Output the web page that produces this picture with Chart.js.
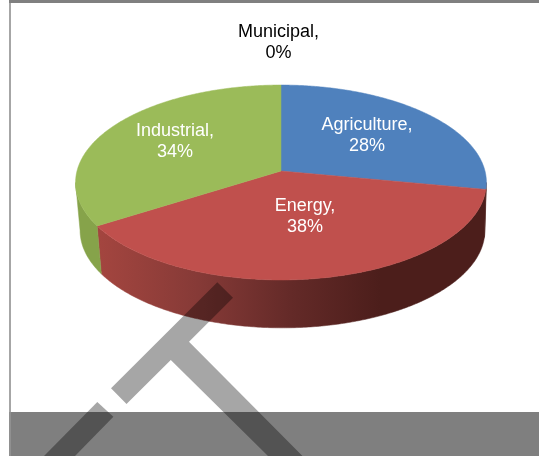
<!DOCTYPE html>
<html>
<head>
<meta charset="utf-8">
<style>html,body{margin:0;padding:0;background:#fff}canvas{display:block}</style>
<script src="https://cdn.jsdelivr.net/npm/chart.js@4"></script>
</head>
<body>
<canvas id="c" width="539" height="456"></canvas>
<script>
const categories = ['Agriculture', 'Energy', 'Industrial', 'Municipal'];
const shares = [28, 38, 34, 0];
const topColors = ['#4f81bd', '#c0504d', '#9bbb59', '#8064a2'];
const labelColors = ['#ffffff', '#ffffff', '#ffffff', '#000000'];
const labelAnchors = [[367, 135.5], [305, 216.5], [175, 142], [278.5, 42.5]];

// perspective view of the pie disk
const K = 0.118;
const topDisk = {cx: 281, cy: 171, rx: 204, ry: 96.1};
const baseDisk = {cx: 282.5, cy: 219, rx: 201, ry: 96};
function project(d, theta) {
  const u = Math.sin(theta), v = -Math.cos(theta), w = 1 - K * v;
  return [d.cx + d.rx * u / w, d.cy + d.ry * v / w];
}
function rimPoints(d, a, b) {
  const pts = [], n = Math.max(2, Math.ceil(Math.abs(b - a) / 0.01));
  for (let i = 0; i <= n; i++) pts.push(project(d, a + (b - a) * i / n));
  return pts;
}
function tracePoly(ctx, pts) {
  ctx.beginPath();
  pts.forEach((p, i) => i ? ctx.lineTo(p[0], p[1]) : ctx.moveTo(p[0], p[1]));
  ctx.closePath();
}
// the side wall is visible between the two silhouette angles of the disk
const WALL_FROM = 96.8 * Math.PI / 180, WALL_TO = 263.2 * Math.PI / 180;

const pie3d = {
  id: 'pie3d',
  beforeDatasetDraw(chart, args) {
    const ctx = chart.ctx, arcs = args.meta.data;
    ctx.save();
    const g = ctx.createLinearGradient(100, 0, 380, 0);
    g.addColorStop(0, '#a3453f');
    g.addColorStop(0.35, '#863a37');
    g.addColorStop(0.68, '#642a28');
    g.addColorStop(1, '#4c1e1b');
    const wallFill = [ '#4c1e1b', g, '#86a34a', '#8064a2' ];
    arcs.forEach((arc, i) => {
      const a = Math.max(arc.startAngle + Math.PI / 2, WALL_FROM);
      const b = Math.min(arc.endAngle + Math.PI / 2, WALL_TO);
      if (b <= a) return;
      tracePoly(ctx, rimPoints(topDisk, a, b).concat(rimPoints(baseDisk, b, a)));
      ctx.fillStyle = wallFill[i];
      ctx.strokeStyle = wallFill[i];
      ctx.lineWidth = 0.5;
      ctx.fill(); ctx.stroke();
    });
    arcs.forEach((arc, i) => {
      const a = arc.startAngle + Math.PI / 2, b = arc.endAngle + Math.PI / 2;
      if (b - a < 1e-6) return;
      tracePoly(ctx, [[topDisk.cx, topDisk.cy]].concat(rimPoints(topDisk, a, b)));
      ctx.fillStyle = topColors[i];
      ctx.strokeStyle = topColors[i];
      ctx.lineWidth = 0.5;
      ctx.fill(); ctx.stroke();
    });
    ctx.restore();
    return false;
  },
  afterDatasetsDraw(chart) {
    const ctx = chart.ctx;
    ctx.save();
    ctx.font = '18px "Liberation Sans", Arial, sans-serif';
    ctx.textAlign = 'center';
    ctx.textBaseline = 'middle';
    categories.forEach((name, i) => {
      ctx.fillStyle = labelColors[i];
      const [x, y] = labelAnchors[i];
      ctx.fillText(name + ',', x, y - 10.5);
      ctx.fillText(shares[i] + '%', x, y + 10.5);
    });
    ctx.restore();
  },
  afterDraw(chart) {
    const ctx = chart.ctx;
    ctx.save();
    // frame
    ctx.fillStyle = '#808080';
    ctx.fillRect(9, 0, 530, 3);
    ctx.fillStyle = '#a6a6a6';
    ctx.fillRect(9, 3, 2, 409);
    ctx.fillStyle = '#909090';
    ctx.fillRect(9, 412, 2, 44);
    // overlay band and watermark
    ctx.fillStyle = 'rgba(0,0,0,0.5)';
    ctx.fillRect(11, 412, 528, 44);
    ctx.fillStyle = 'rgba(0,0,0,0.35)';
    tracePoly(ctx, [[217.3,282.3],[233,297.7],[189,341.7],[302.5,456],[268,456],[170.8,360],[126.5,404],[111,388.3]]);
    ctx.fill();
    tracePoly(ctx, [[97.3,402],[113.4,416.7],[75,456],[44,456]]);
    ctx.fill();
    ctx.restore();
  }
};

new Chart(document.getElementById('c'), {
  type: 'pie',
  data: {labels: categories, datasets: [{data: shares, backgroundColor: topColors, borderWidth: 0}]},
  options: {
    responsive: false,
    animation: false,
    events: [],
    plugins: {legend: {display: false}, tooltip: {enabled: false}}
  },
  plugins: [pie3d]
});
</script>
</body>
</html>
